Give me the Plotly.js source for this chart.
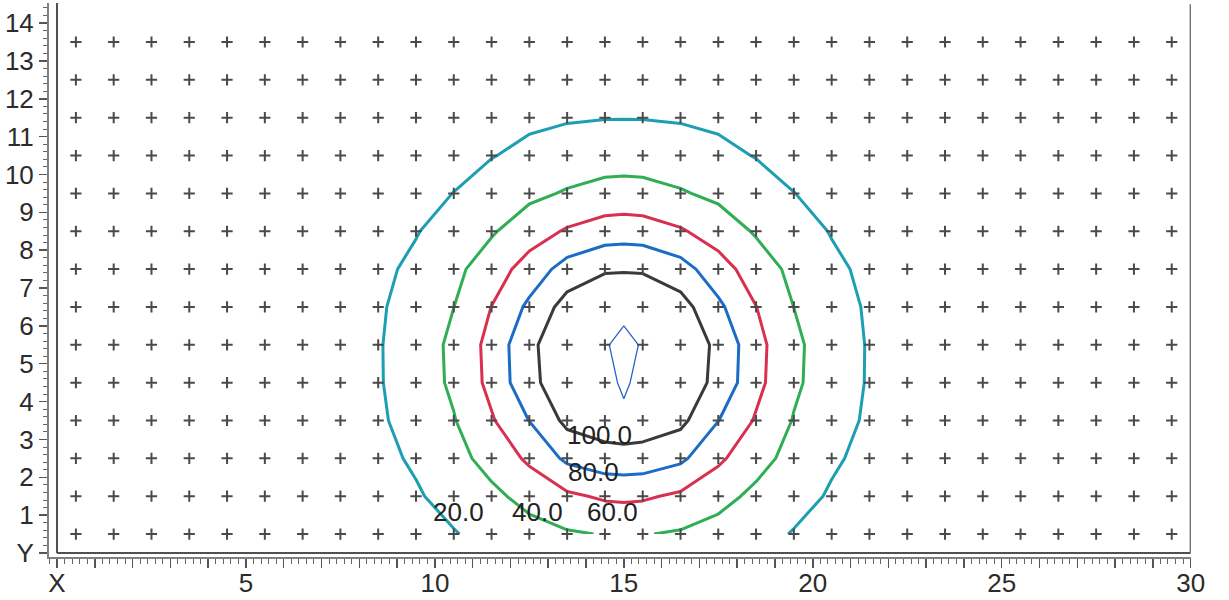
<!DOCTYPE html>
<html>
<head>
<meta charset="utf-8">
<script src="https://cdn.plot.ly/plotly-3.0.1.min.js"></script>
<style>html,body{margin:0;padding:0;background:#fff;}#chart{width:1229px;height:600px;}</style>
</head>
<body>
<div id="chart"></div>
<script>
// sample point grid (the "+" marks)
const pointX = [0.5,1.5,2.5,3.5,4.5,5.5,6.5,7.5,8.5,9.5,10.5,11.5,12.5,13.5,14.5,15.5,16.5,17.5,18.5,19.5,20.5,21.5,22.5,23.5,24.5,25.5,26.5,27.5,28.5,29.5];
const pointY = [0.5,1.5,2.5,3.5,4.5,5.5,6.5,7.5,8.5,9.5,10.5,11.5,12.5,13.5];

// gridded field (estimated from the contours)
const gridX = [7.5,8.5,9.5,10.5,11.5,12.5,13.5,14.5,15,15.5,16.5,17.5,18.5,19.5,20.5,21.5,22.5];
const gridY = [0.5,1.5,2.5,3.5,4.5,5.5,6.5,7.5,8.5,9.5,10.5,11.5,12.5];
const zValues = [
  [7.0, 9.1, 14.2, 18.9, 26.1, 32.9, 37.9, 40.9, 41.5, 40.9, 37.9, 32.9, 26.1, 18.9, 14.2, 9.1, 7.0],
  [8.2, 12.6, 18.1, 26.4, 35.7, 46.3, 56.6, 62.7, 63.6, 62.7, 56.6, 46.3, 35.7, 26.4, 18.1, 12.6, 8.2],
  [9.3, 15.4, 22.4, 33.6, 46.9, 63.6, 84.0, 92.0, 93.0, 92.0, 84.0, 63.6, 46.9, 33.6, 22.4, 15.4, 9.3],
  [11.1, 17.4, 27.0, 38.9, 58.0, 80.4, 105.0, 110.4, 111.8, 110.4, 105.0, 80.4, 58.0, 38.9, 27.0, 17.4, 11.1],
  [12.1, 18.5, 29.5, 43.4, 65.5, 95.0, 111.9, 108.0, 126.0, 108.0, 111.9, 95.0, 65.5, 43.4, 29.5, 18.5, 12.1],
  [12.2, 18.6, 29.8, 44.0, 66.5, 96.0, 113.3, 117.0, 130.0, 117.0, 113.3, 96.0, 66.5, 44.0, 29.8, 18.6, 12.2],
  [11.4, 17.7, 27.8, 39.9, 60.3, 84.1, 108.0, 114.9, 110.0, 114.9, 108.0, 84.1, 60.3, 39.9, 27.8, 17.7, 11.4],
  [9.9, 16.0, 23.8, 35.1, 50.2, 68.4, 88.0, 98.0, 99.0, 98.0, 88.0, 68.4, 50.2, 35.1, 23.8, 16.0, 9.9],
  [8.4, 13.4, 19.0, 28.4, 38.0, 50.8, 62.1, 69.4, 70.4, 69.4, 62.1, 50.8, 38.0, 28.4, 19.0, 13.4, 8.4],
  [7.3, 10.1, 15.3, 20.2, 28.7, 35.8, 41.7, 46.5, 47.1, 46.5, 41.7, 35.8, 28.7, 20.2, 15.3, 10.1, 7.3],
  [6.0, 7.9, 11.0, 15.4, 19.2, 24.6, 29.0, 31.3, 31.6, 31.3, 29.0, 24.6, 19.2, 15.4, 11.0, 7.9, 6.0],
  [4.4, 6.2, 8.0, 10.3, 13.7, 16.4, 18.4, 19.4, 19.5, 19.4, 18.4, 16.4, 13.7, 10.3, 8.0, 6.2, 4.4],
  [3.5, 4.4, 6.0, 7.4, 8.6, 10.4, 12.1, 12.9, 13.1, 12.9, 12.1, 10.4, 8.6, 7.4, 6.0, 4.4, 3.5]
];

// contour levels and their label positions
const levels      = [20, 40, 60, 80, 100, 120];
const levelColors = ['#1c9fb3', '#2fae55', '#d9304f', '#1a6cc4', '#3a3a3a', '#2a62c8'];
const levelWidths = [3, 3, 3, 3, 3, 1.3];
const labelText = ['20.0', '40.0', '60.0', '80.0', '100.0'];
const labelX    = [10.62, 12.72, 14.7, 14.2, 14.35];
const labelY    = [1.08, 1.08, 1.08, 2.14, 3.12];

// axis ticks
const xTickVals = [0,1,2,3,4,5,6,7,8,9,10,11,12,13,14,15,16,17,18,19,20,21,22,23,24,25,26,27,28,29,30];
const xTickText = ['X','','','','','5','','','','','10','','','','','15','','','','','20','','','','','25','','','','','30'];
const yTickVals = [0,1,2,3,4,5,6,7,8,9,10,11,12,13,14];
const yTickText = ['Y','1','2','3','4','5','6','7','8','9','10','11','12','13','14'];

const px = [], py = [];
pointY.forEach(function (yy) { pointX.forEach(function (xx) { px.push(xx); py.push(yy); }); });

const traces = [{
  type: 'scatter', mode: 'markers', x: px, y: py, hoverinfo: 'skip', showlegend: false,
  marker: { symbol: 'cross-thin', size: 8, color: '#4a4a4a', line: { color: '#4a4a4a', width: 2 } }
}];
levels.forEach(function (L, i) {
  traces.push({
    type: 'contour', x: gridX, y: gridY, z: zValues, autocontour: false,
    contours: { start: L, end: L, size: 1, coloring: 'none', showlabels: false },
    line: { color: levelColors[i], width: levelWidths[i], smoothing: 0 },
    showscale: false, showlegend: false, hoverinfo: 'skip'
  });
});

const font = { family: 'Liberation Sans, Arial, sans-serif', size: 26, color: '#2b2b2b' };
const annotations = labelText.map(function (t, i) {
  return { x: labelX[i], y: labelY[i], xref: 'x', yref: 'y', text: t, showarrow: false,
           font: { family: font.family, size: 26, color: '#222' } };
});

const layout = {
  width: 1229, height: 600,
  margin: { l: 49, r: 38, t: 3, b: 43, pad: 0 },
  paper_bgcolor: '#fff', plot_bgcolor: '#fff',
  showlegend: false,
  font: font,
  xaxis: {
    range: [-0.212, 30.01], showgrid: false, zeroline: false,
    showline: true, linecolor: '#808080', linewidth: 2,
    ticks: 'outside', ticklen: 9, tickwidth: 1.5, tickcolor: '#555',
    tickmode: 'array', tickvals: xTickVals, ticktext: xTickText,
    ticklabelstandoff: -7,
    minor: { dtick: 0.2, ticks: 'outside', ticklen: 5, tickwidth: 1, tickcolor: '#666', showgrid: false },
    tickfont: font, fixedrange: true
  },
  yaxis: {
    range: [-0.106, 14.53], showgrid: false, zeroline: false,
    showline: true, linecolor: '#808080', linewidth: 2,
    ticks: 'outside', ticklen: 8, tickwidth: 1.5, tickcolor: '#555',
    tickmode: 'array', tickvals: yTickVals, ticktext: yTickText,
    minor: { dtick: 0.2, ticks: 'outside', ticklen: 4, tickwidth: 1, tickcolor: '#666', showgrid: false },
    tickfont: font, fixedrange: true
  },
  shapes: [
    { type: 'line', xref: 'x', yref: 'y', x0: 0, x1: 0, y0: 0, y1: 14.53, line: { color: '#505050', width: 2 } },
    { type: 'line', xref: 'x', yref: 'y', x0: 0, x1: 30, y0: 0, y1: 0, line: { color: '#505050', width: 2 } },
    { type: 'line', xref: 'x', yref: 'y', x0: 30, x1: 30, y0: 0, y1: 14.5, line: { color: '#707070', width: 2 } }
  ],
  annotations: annotations
};

Plotly.newPlot('chart', traces, layout, { staticPlot: true, displayModeBar: false });
</script>
</body>
</html>
